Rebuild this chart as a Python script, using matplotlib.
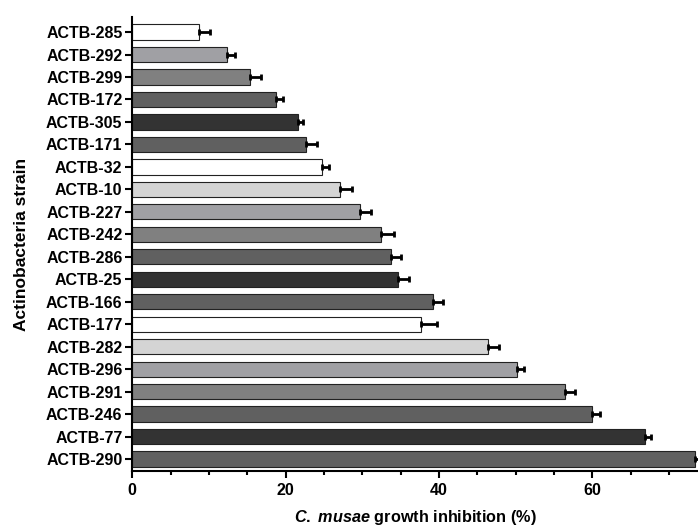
import matplotlib.pyplot as plt
from matplotlib.ticker import MultipleLocator

plt.rcParams['font.family'] = ['Liberation Sans', 'DejaVu Sans']
plt.rcParams['mathtext.fontset'] = 'custom'
plt.rcParams['mathtext.it'] = 'Liberation Sans:italic:bold'
plt.rcParams['mathtext.rm'] = 'Liberation Sans:bold'

strains = ["ACTB-285", "ACTB-292", "ACTB-299", "ACTB-172", "ACTB-305",
           "ACTB-171", "ACTB-32", "ACTB-10", "ACTB-227", "ACTB-242",
           "ACTB-286", "ACTB-25", "ACTB-166", "ACTB-177", "ACTB-282",
           "ACTB-296", "ACTB-291", "ACTB-246", "ACTB-77", "ACTB-290"]
inhibition = [8.7, 12.4, 15.4, 18.8, 21.6,
              22.7, 24.7, 27.1, 29.7, 32.5,
              33.8, 34.6, 39.2, 37.7, 46.4,
              50.2, 56.4, 60.0, 66.9, 73.4]
sem = [1.4, 1.0, 1.4, 0.9, 0.7,
       1.35, 1.0, 1.5, 1.5, 1.6,
       1.2, 1.5, 1.4, 2.1, 1.4,
       0.9, 1.3, 1.0, 0.8, 1.0]
colors = ["#ffffff", "#a0a0a4", "#808080", "#606060", "#333333",
          "#606060", "#ffffff", "#d4d4d4", "#a0a0a4", "#808080",
          "#606060", "#333333", "#606060", "#ffffff", "#d4d4d4",
          "#a0a0a4", "#808080", "#606060", "#333333", "#606060"]

fig = plt.figure(figsize=(6.98, 5.26), dpi=100)
ax = fig.add_axes([0.1895, 0.1046, 0.8105, 0.8631])

pos = list(range(len(strains)))
ax.barh(pos, inhibition, height=0.68, color=colors,
        edgecolor="#222222", linewidth=0.8, zorder=2)
ax.errorbar(inhibition, pos, xerr=[[0] * len(sem), sem], fmt="none",
            ecolor="black", elinewidth=2, capsize=2.5, capthick=2, zorder=3)

ax.set_ylim(19.53, -0.67)
ax.set_xlim(0, 73.8)
ax.set_yticks(pos)
ax.set_yticklabels(strains, fontweight="bold", fontsize=11.5)
ax.xaxis.set_major_locator(MultipleLocator(20))
ax.xaxis.set_minor_locator(MultipleLocator(5))
for lbl in ax.get_xticklabels():
    lbl.set_fontweight("bold")
    lbl.set_fontsize(11.5)

ax.spines["top"].set_visible(False)
ax.spines["right"].set_visible(False)
ax.spines["left"].set_linewidth(1.5)
ax.spines["bottom"].set_linewidth(1.5)
ax.tick_params(axis="both", which="major", length=5, width=1.5, pad=2)
ax.tick_params(axis="x", which="minor", length=3, width=1.5)
ax.tick_params(axis="x", pad=4)

ax.set_xlabel(r"$\it{C.\ musae}$ growth inhibition (%)",
              fontweight="bold", fontsize=11.7, labelpad=7)
ax.set_ylabel("Actinobacteria strain", fontweight="bold", fontsize=12.5,
              labelpad=12)

fig.savefig("out.png", dpi=100)
